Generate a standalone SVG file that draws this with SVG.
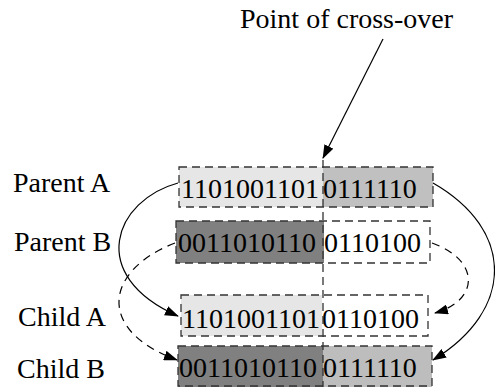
<svg xmlns="http://www.w3.org/2000/svg" width="495" height="387" viewBox="0 0 495 387">
<defs>
<style>
.t{font-family:"Liberation Serif","Times New Roman",serif;font-size:28px;fill:#000}
.box{fill:none;stroke:#333;stroke-width:1.3;stroke-dasharray:8 5}
.c{fill:none;stroke:#000;stroke-width:1.2}
.d{stroke-dasharray:8 6}
</style>
<marker id="ah" viewBox="0 0 14 10" refX="13" refY="5" markerWidth="14" markerHeight="10" markerUnits="userSpaceOnUse" orient="auto">
<path d="M0,0 L14,5 L0,10 Z" fill="#000"/>
</marker>
</defs>
<rect width="495" height="387" fill="#fff"/>
<g id="label-top"><text class="t" x="240" y="28">Point of cross-over</text></g>
<g id="parentA">
<rect x="179" y="167" width="144" height="40" fill="#e6e6e6"/>
<rect x="323" y="167" width="110" height="40" fill="#c0c0c0"/>
<rect class="box" x="179" y="167" width="254" height="40"/>
<text class="t" x="181" y="198">1101001101</text>
<text class="t" x="323" y="198">0111110</text>
<text class="t" x="13" y="192">Parent A</text>
</g>
<g id="parentB">
<rect x="176" y="221" width="148" height="42" fill="#808080"/>
<rect class="box" x="176" y="221" width="254" height="42"/>
<text class="t" x="178" y="252">0011010110</text>
<text class="t" x="324" y="252">0110100</text>
<text class="t" x="14" y="251">Parent B</text>
</g>
<g id="childA">
<rect x="181" y="295" width="141" height="41" fill="#e6e6e6"/>
<rect class="box" x="181" y="295" width="247" height="41"/>
<text class="t" x="182" y="328">1101001101</text>
<text class="t" x="322" y="328">0110100</text>
<text class="t" x="18" y="326">Child A</text>
</g>
<g id="childB">
<rect x="178" y="346" width="145" height="41" fill="#808080"/>
<rect x="323" y="346" width="109" height="41" fill="#bdbdbd"/>
<rect class="box" x="178" y="346" width="254" height="40"/>
<text class="t" x="179" y="377">0011010110</text>
<text class="t" x="323" y="377">0111110</text>
<text class="t" x="17" y="378">Child B</text>
</g>
<g id="connectors">
<line class="box" x1="323" y1="160" x2="323" y2="387"/>
<line class="c" x1="383" y1="39" x2="323" y2="158" marker-end="url(#ah)"/>
<path class="c" d="M178,183 C115,200 85,275 178,316" marker-end="url(#ah)"/>
<path class="c d" d="M175,243 C105,270 95,330 177,360" marker-end="url(#ah)"/>
<path class="c" d="M433,183 C515,230 515,310 433,360" marker-end="url(#ah)"/>
<path class="c d" d="M432,243 C480,260 480,300 435,313" marker-end="url(#ah)"/>
</g>
</svg>
